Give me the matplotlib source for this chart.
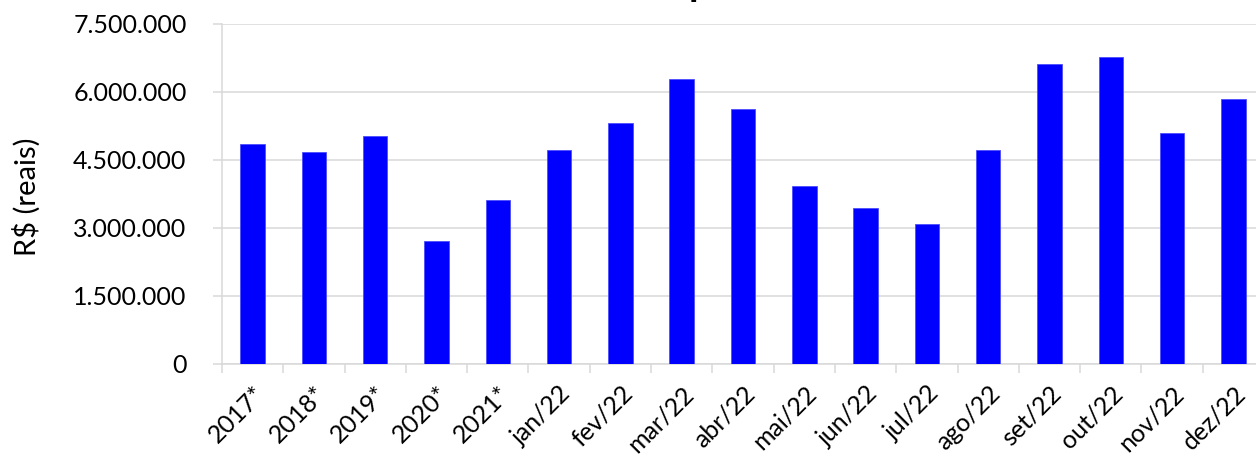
import numpy as np
import matplotlib.pyplot as plt
from matplotlib.ticker import FixedLocator, FuncFormatter

# Data
categories = ['2017*', '2018*', '2019*', '2020*', '2021*',
              'jan/22', 'fev/22', 'mar/22', 'abr/22', 'mai/22', 'jun/22',
              'jul/22', 'ago/22', 'set/22', 'out/22', 'nov/22', 'dez/22']
values = [4850000, 4670000, 5020000, 2700000, 3610000,
          4700000, 5310000, 6280000, 5620000, 3910000, 3420000,
          3070000, 4700000, 6600000, 6770000, 5080000, 5840000]
y_ticks = [0, 1500000, 3000000, 4500000, 6000000, 7500000]
y_label = 'R$ (reais)'
title_fragment = 'p'  # only the descender of the title survives the crop

plt.rcParams['font.family'] = ['Lato', 'DejaVu Sans']

GRID = '#D9D9D9'

fig = plt.figure(figsize=(12.56, 4.57), dpi=100)
# plot area runs past the right edge, as in the cropped original
ax = fig.add_axes([222 / 1256, 93.5 / 457, 1042 / 1256, 340 / 457])

x = np.arange(len(categories))
ax.bar(x, values, width=0.4, color='#0000FF', edgecolor='#4d4dff',
       linewidth=0.6, zorder=3)

ax.set_xlim(-0.5, len(categories) - 0.5)
ax.set_ylim(0, 7500000)

ax.yaxis.set_major_locator(FixedLocator(y_ticks))
ax.yaxis.set_major_formatter(
    FuncFormatter(lambda v, p: f"{v:,.0f}".replace(',', '.')))
ax.grid(axis='y', color=GRID, linewidth=1.1, zorder=0)

ax.set_xticks(x)
ax.set_xticklabels(categories, rotation=45, ha='right',
                   rotation_mode='anchor', fontsize=18)
ax.set_xticks(np.arange(-0.5, len(categories)), minor=True)
ax.tick_params(axis='x', which='major', length=0, pad=13)
ax.tick_params(axis='x', which='minor', length=6.5, width=1.1, color=GRID)
ax.tick_params(axis='y', length=6.5, width=1.1, color=GRID,
               labelsize=18, pad=19)

for side in ['top', 'right']:
    ax.spines[side].set_visible(False)
for side in ['left', 'bottom']:
    ax.spines[side].set_color(GRID)
    ax.spines[side].set_linewidth(1.1)

ax.set_ylabel(y_label, fontsize=21)
ax.yaxis.set_label_coords(-0.174, 0.49)

fig.text(700 / 1256, 1 + 4 / 457, title_fragment, ha='center',
         va='baseline', fontsize=28, fontweight='bold', color='black')

fig.savefig('out.png', dpi=100)
